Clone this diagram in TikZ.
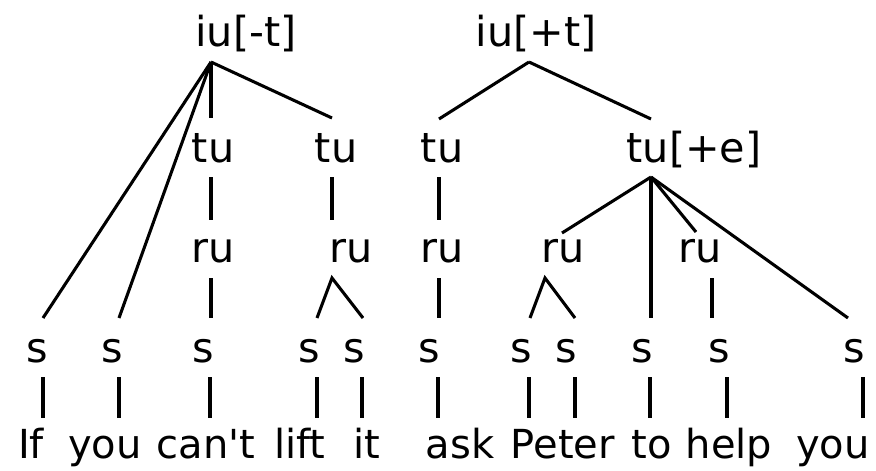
\documentclass[tikz,border=0pt]{standalone}
\usepackage{fontspec}
\setmainfont{DejaVu Sans}

\tikzset{every picture/.style={line width=2.3pt}}
\tikzset{
  lab/.style={anchor=base,inner sep=0.75pt,font=\fontsize{31}{36}\selectfont},
  word/.style={anchor=base,inner sep=0.75pt,font=\fontsize{30}{36}\selectfont},
}

\begin{document}
\begin{tikzpicture}[x=0.75pt,y=0.75pt,yscale=-1,xscale=1]
\useasboundingbox (0,0) rectangle (876,471);

% Text Node
\node[lab] (iuM) at (246,46) {iu[-t]};
\node[lab] (iuP) at (536,46) {iu[+t]};
% Text Node
\node[lab] (tuA) at (213,162) {tu};
\node[lab] (tuB) at (336,162) {tu};
\node[lab] (tuC) at (442,162) {tu};
\node[lab] (tuE) at (694,162) {tu[+e]};
% Text Node
\node[lab] (ruA) at (213,262) {ru};
\node[lab] (ruB) at (351,262) {ru};
\node[lab] (ruC) at (442,262) {ru};
\node[lab] (ruD) at (563,262) {ru};
\node[lab] (ruE) at (700,262) {ru};
% Text Node
\foreach \i/\x in {1/37,2/112,3/203,4/309,5/354,6/429,7/521,8/566,9/642,10/719,11/854}
  \node[lab] (s\i) at (\x,362) {s};
% Text Node
\node[word] (w1) at (31,458) {If};
\node[word] (w2) at (105,458) {you};
\node[word] (w3) at (206,458) {can\textquotesingle t};
\node[word] (w4) at (300,458) {lift};
\node[word] (w5) at (367,458) {it};
\node[word] (w6) at (460,458) {ask};
\node[word] (w7) at (563,458) {Peter};
\node[word] (w8) at (652,458) {to};
\node[word] (w9) at (729,458) {help};
\node[word] (w10) at (833,458) {you};

% branching points
\coordinate (kA) at (211,62);
\coordinate (kB) at (529,62);
\coordinate (kC) at (651,177);
% ends above the tu labels
\coordinate (tA) at (211,118);
\coordinate (tB) at (332,118);
\coordinate (tC) at (439,119);
\coordinate (tE) at (651,119);
% tu to ru
\coordinate (bA) at (211,177);
\coordinate (bB) at (332,177);
\coordinate (bC) at (439,177);
\coordinate (rA) at (211,220);
\coordinate (rB) at (332,220);
\coordinate (rC) at (439,220);
\coordinate (rD) at (562,233);
\coordinate (rE) at (696,232);
% below the ru labels
\coordinate (uA) at (211,278);
\coordinate (uB) at (332,278);
\coordinate (uC) at (439,278);
\coordinate (uD) at (545,278);
\coordinate (uE) at (712,278);
% ends above the s labels
\foreach \i/\x in {1/43,2/119,3/211,4/317,5/363,6/439,7/530,8/575,9/651,10/712,11/848}
  \coordinate (e\i) at (\x,318);

%Straight Lines
\draw (kA) -- (e1);
\draw (kA) -- (e2);
\draw (kA) -- (tA);
\draw (kA) -- (tB);
\draw (kB) -- (tC);
\draw (kB) -- (tE);
%Straight Lines
\draw (bA) -- (rA);
\draw (bB) -- (rB);
\draw (bC) -- (rC);
%Straight Lines
\draw (kC) -- (rD);
\draw (kC) -- (e9);
\draw (kC) -- (rE);
\draw (kC) -- (e11);
%Straight Lines
\draw (uA) -- (e3);
\draw (e4) -- (uB) -- (e5);
\draw (uC) -- (e6);
\draw (e7) -- (uD) -- (e8);
\draw (uE) -- (e10);
%Straight Lines s to words
\foreach \i/\x in {1/43,2/119,3/210,4/317,5/362,6/438,7/529,8/575,9/650,10/727,11/863}{
  \coordinate (lo\i) at (\x,377);
  \coordinate (hi\i) at (\x,418);
  \draw (lo\i) -- (hi\i);
}

\end{tikzpicture}
\end{document}
